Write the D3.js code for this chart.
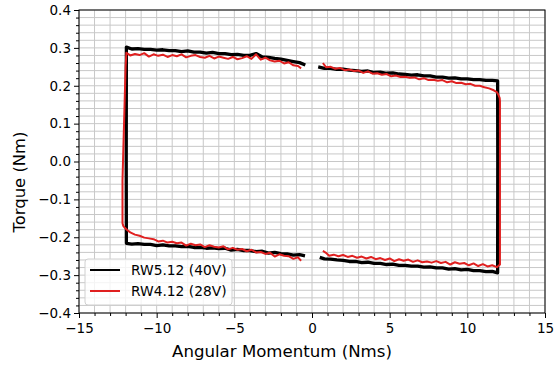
<!DOCTYPE html>
<html><head><meta charset="utf-8">
<script src="https://cdn.jsdelivr.net/npm/d3@7"></script>
<style>html,body{margin:0;padding:0;background:#fff;}svg{display:block;font-family:"DejaVu Sans",sans-serif;}</style>
</head><body><svg id="c" width="555" height="366"></svg>
<script>
// ---- data (NaN = gap in the recorded trace) ----
const seriesNames = ["RW5.12 (40V)", "RW4.12 (28V)"];
const seriesColors = ["#000000", "#e02020"];

const rw5Momentum = [
 -0.45,-0.8,-1.2,-1.6,-2.0,-2.4,-2.8,-3.2,-3.6,-4.0,-4.4,-4.8,-5.2,-5.6,-6.0,-6.4,-6.8,-7.2,-7.6,-8.0,-8.4,-8.8,-9.2,-9.6,-10.0,-10.4,-10.8,-11.2,-11.6,-11.95,
 -11.96,
 -11.95,-11.6,-11.2,-10.8,-10.4,-10.0,-9.6,-9.2,-8.8,-8.4,-8.0,-7.6,-7.2,-6.8,-6.4,-6.0,-5.6,-5.2,-4.8,-4.4,-4.0,-3.6,-3.2,-2.8,-2.4,-2.0,-1.6,-1.2,-0.8,-0.43,
 NaN,
 0.4,0.8,1.2,1.6,2.0,2.4,2.8,3.2,3.6,4.0,4.4,4.8,5.2,5.6,6.0,6.4,6.8,7.2,7.6,8.0,8.4,8.8,9.2,9.6,10.0,10.4,10.8,11.2,11.6,11.95,
 11.96,
 11.95,11.6,11.2,10.8,10.4,10.0,9.6,9.2,8.8,8.4,8.0,7.6,7.2,6.8,6.4,6.0,5.6,5.2,4.8,4.4,4.0,3.6,3.2,2.8,2.4,2.0,1.6,1.2,0.8,0.5
];
const rw5Torque = [
 -0.249,-0.246,-0.247,-0.244,-0.243,-0.240,-0.242,-0.237,-0.238,-0.235,-0.235,-0.232,-0.234,-0.229,-0.230,-0.228,-0.229,-0.227,-0.227,-0.224,-0.225,-0.223,-0.223,-0.220,-0.222,-0.219,-0.219,-0.217,-0.218,-0.216,
 0.0,
 0.302,0.297,0.298,0.296,0.296,0.294,0.295,0.293,0.293,0.290,0.292,0.289,0.289,0.286,0.288,0.285,0.285,0.282,0.283,0.280,0.280,0.285,0.276,0.275,0.272,0.270,0.267,0.264,0.261,0.255,
 NaN,
 0.250,0.246,0.246,0.243,0.244,0.241,0.240,0.238,0.239,0.235,0.236,0.233,0.234,0.231,0.230,0.228,0.229,0.226,0.226,0.223,0.223,0.220,0.221,0.218,0.218,0.216,0.216,0.214,0.214,0.213,
 0.0,
 -0.294,-0.290,-0.291,-0.288,-0.288,-0.285,-0.286,-0.283,-0.284,-0.281,-0.281,-0.278,-0.279,-0.276,-0.276,-0.274,-0.274,-0.271,-0.272,-0.269,-0.269,-0.266,-0.267,-0.264,-0.264,-0.261,-0.260,-0.258,-0.257,-0.253
];

const rw4Momentum = [
 -0.7,-0.9,-1.2,-1.5,-1.8,-2.1,-2.4,-2.7,-3.0,-3.3,-3.6,-3.9,-4.2,-4.5,-4.8,-5.1,-5.4,-5.7,-6.0,-6.3,-6.6,-6.9,-7.2,-7.5,-7.8,-8.1,-8.4,-8.7,-9.0,-9.3,-9.6,-9.9,-10.2,-10.5,-10.8,-11.1,-11.4,-11.7,-11.9,-12.05,-12.15,-12.2,
 -12.2,-12.1,-12.0,
 -11.95,-11.7,-11.4,-11.1,-10.8,-10.5,-10.2,-9.9,-9.6,-9.3,-9.0,-8.7,-8.4,-8.1,-7.8,-7.5,-7.2,-6.9,-6.6,-6.3,-6.0,-5.7,-5.4,-5.1,-4.8,-4.5,-4.2,-3.9,-3.6,-3.3,-3.0,-2.7,-2.4,-2.1,-1.8,-1.5,-1.2,-0.9,-0.7,
 NaN,
 0.7,0.9,1.2,1.5,1.8,2.1,2.4,2.7,3.0,3.3,3.6,3.9,4.2,4.5,4.8,5.1,5.4,5.7,6.0,6.3,6.6,6.9,7.2,7.5,7.8,8.1,8.4,8.7,9.0,9.3,9.6,9.9,10.2,10.5,10.8,11.1,11.4,11.7,11.9,12.0,12.08,12.1,
 12.1,
 12.1,11.9,11.6,11.3,11.0,10.7,10.4,10.1,9.8,9.5,9.2,8.9,8.6,8.3,8.0,7.7,7.4,7.1,6.8,6.5,6.2,5.9,5.6,5.3,5.0,4.7,4.4,4.1,3.8,3.5,3.2,2.9,2.6,2.3,2.0,1.7,1.4,1.1,0.9,0.7
];
const rw4Torque = [
 -0.262,-0.253,-0.257,-0.250,-0.249,-0.245,-0.251,-0.241,-0.244,-0.239,-0.240,-0.233,-0.237,-0.231,-0.233,-0.228,-0.232,-0.224,-0.227,-0.225,-0.221,-0.226,-0.219,-0.221,-0.217,-0.222,-0.214,-0.216,-0.212,-0.214,-0.209,-0.211,-0.205,-0.203,-0.201,-0.196,-0.193,-0.187,-0.181,-0.175,-0.170,-0.163,
 -0.05,0.10,0.25,
 0.287,0.280,0.284,0.281,0.286,0.277,0.283,0.279,0.282,0.276,0.281,0.278,0.283,0.275,0.279,0.281,0.276,0.274,0.279,0.272,0.277,0.274,0.271,0.276,0.270,0.273,0.278,0.271,0.283,0.269,0.274,0.267,0.264,0.266,0.259,0.262,0.254,0.252,0.246,
 NaN,
 0.260,0.249,0.250,0.245,0.247,0.241,0.243,0.239,0.240,0.234,0.238,0.232,0.233,0.229,0.231,0.225,0.227,0.223,0.224,0.221,0.222,0.217,0.220,0.215,0.216,0.213,0.215,0.209,0.212,0.207,0.208,0.204,0.205,0.200,0.200,0.196,0.193,0.188,0.183,0.176,0.168,0.160,
 0.0,
 -0.272,-0.279,-0.274,-0.277,-0.271,-0.276,-0.269,-0.274,-0.268,-0.270,-0.266,-0.272,-0.265,-0.268,-0.263,-0.267,-0.264,-0.266,-0.261,-0.265,-0.259,-0.262,-0.258,-0.263,-0.256,-0.260,-0.255,-0.258,-0.252,-0.256,-0.251,-0.254,-0.249,-0.252,-0.247,-0.250,-0.246,-0.249,-0.241,-0.236
];

const xTicks = [-15,-10,-5,0,5,10,15];
const yTicks = [-0.4,-0.3,-0.2,-0.1,0.0,0.1,0.2,0.3,0.4];
const xLabel = "Angular Momentum (Nms)";
const yLabel = "Torque (Nm)";

// ---- layout ----
const W = 555, H = 366;
const m = {left: 79, right: 10, top: 10, bottom: 53};
const svg = d3.select("#c");
const x = d3.scaleLinear().domain([-15, 15]).range([m.left, W - m.right]);
const y = d3.scaleLinear().domain([-0.4, 0.4]).range([H - m.bottom, m.top]);
const fmtY = v => (v < 0 ? "\u2212" : "") + Math.abs(v).toFixed(1);
const fmtX = v => (v < 0 ? "\u2212" : "") + Math.abs(v);

// grid
const g = svg.append("g");
const xMinor = d3.range(-15, 15.001, 1);
const yMinor = d3.range(-20, 21).map(i => i * 0.02);
g.selectAll("line.vx").data(xMinor).join("line")
 .attr("x1", d => x(d)).attr("x2", d => x(d)).attr("y1", y(-0.4)).attr("y2", y(0.4))
 .attr("stroke", "#c8c8c8").attr("stroke-width", 1);
g.selectAll("line.hy").data(yMinor).join("line")
 .attr("y1", d => y(d)).attr("y2", d => y(d)).attr("x1", x(-15)).attr("x2", x(15))
 .attr("stroke", "#c8c8c8").attr("stroke-width", 1);

// series
const line = d3.line().defined(d => !isNaN(d[0]) && !isNaN(d[1])).x(d => x(d[0])).y(d => y(d[1]));
const s5 = rw5Momentum.map((v, i) => [v, rw5Torque[i]]);
const s4 = rw4Momentum.map((v, i) => [v, rw4Torque[i]]);
svg.append("path").datum(s5).attr("d", line).attr("fill", "none")
 .attr("stroke", seriesColors[0]).attr("stroke-width", 3.3).attr("stroke-linejoin", "round");
svg.append("path").datum(s4).attr("d", line).attr("fill", "none")
 .attr("stroke", seriesColors[1]).attr("stroke-width", 2).attr("stroke-linejoin", "round");

// axes
const xAxis = d3.axisBottom(x).tickValues(xTicks).tickFormat(fmtX).tickSize(5).tickPadding(5);
const xAxisMinor = d3.axisBottom(x).tickValues(xMinor.filter(v => v % 5 !== 0)).tickFormat("").tickSize(3);
const yAxis = d3.axisLeft(y).tickValues(yTicks).tickFormat(fmtY).tickSize(5).tickPadding(3);
const yAxisMinor = d3.axisLeft(y).tickValues(yMinor.filter((v, i) => i % 5 !== 0)).tickFormat("").tickSize(3);

function style(sel) {
  sel.select(".domain").remove();
  sel.selectAll("line").attr("stroke", "#000").attr("stroke-width", 1);
  sel.selectAll("text").attr("fill", "#000").attr("font-size", "13.5px").attr("font-family", "DejaVu Sans");
}
svg.append("g").attr("transform", `translate(0,${H - m.bottom})`).call(xAxis).call(style);
svg.append("g").attr("transform", `translate(0,${H - m.bottom})`).call(xAxisMinor).call(style);
svg.append("g").attr("transform", `translate(${m.left},0)`).call(yAxis).call(style);
svg.append("g").attr("transform", `translate(${m.left},0)`).call(yAxisMinor).call(style);

// frame
svg.append("rect").attr("x", m.left).attr("y", m.top).attr("width", W - m.left - m.right)
 .attr("height", H - m.top - m.bottom).attr("fill", "none").attr("stroke", "#000").attr("stroke-width", 1);

// labels
svg.append("text").attr("x", 282).attr("y", 357).attr("text-anchor", "middle")
 .attr("font-size", "16.6px").attr("fill", "#000").text(xLabel);
svg.append("text").attr("transform", `translate(25,182) rotate(-90)`)
 .attr("text-anchor", "middle").attr("font-size", "16.4px").attr("fill", "#000").text(yLabel);

// legend
const lg = svg.append("g").attr("transform", "translate(85,259)");
lg.append("rect").attr("width", 147).attr("height", 46).attr("rx", 3)
 .attr("fill", "#fff").attr("fill-opacity", 0.8).attr("stroke", "#d0d0d0");
seriesNames.forEach((n, i) => {
  const yy = 11 + i * 21;
  lg.append("line").attr("x1", 5).attr("x2", 35).attr("y1", yy).attr("y2", yy)
    .attr("stroke", seriesColors[i]).attr("stroke-width", 2);
  lg.append("text").attr("x", 46).attr("y", yy + 5).attr("font-size", "13.8px").attr("fill", "#000").text(n);
});
</script></body></html>
